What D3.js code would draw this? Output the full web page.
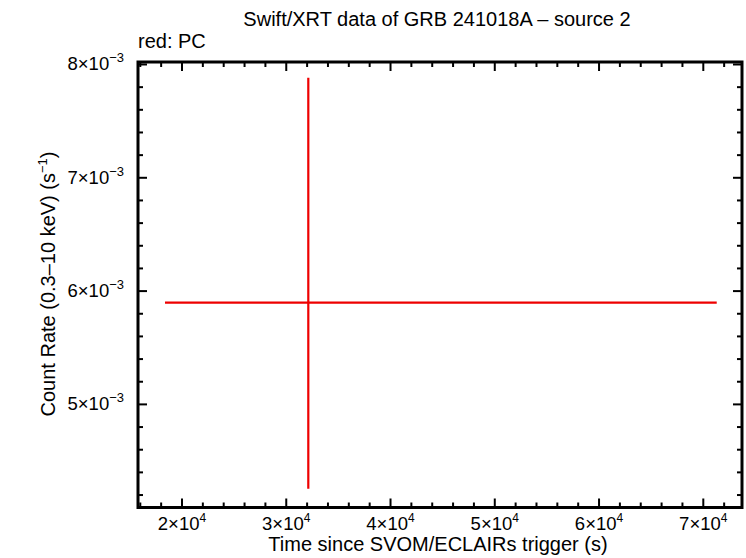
<!DOCTYPE html>
<html><head><meta charset="utf-8">
<script src="https://cdn.jsdelivr.net/npm/d3@7"></script>
<style>body{margin:0;background:#fff}svg{display:block}text{font-family:"Liberation Sans",Arial,Helvetica,sans-serif;fill:#000}</style>
</head><body>
<script>
// data
const time = [32114];
const timeLo = [18369];
const timeHi = [71288];
const rate = [5.899e-3];
const rateLo = [4.255e-3];
const rateHi = [7.883e-3];

const xDomain = [15780, 73712];
const yDomain = [4.090e-3, 8.022e-3];
const xMajor = [20000, 30000, 40000, 50000, 60000, 70000];
const xMajorMant = ["2", "3", "4", "5", "6", "7"];
const xExp = "4";
const yMajor = [5e-3, 6e-3, 7e-3, 8e-3];
const yMajorMant = ["5", "6", "7", "8"];
const yExp = "\u22123";

const W = 746, H = 558;
const L = 138, R = 742, T = 62, B = 507.5;
const svg = d3.select("body").append("svg").attr("width", W).attr("height", H);
const x = d3.scaleLinear().domain(xDomain).range([L, R]);
const y = d3.scaleLinear().domain(yDomain).range([B, T]);

const xMinor = d3.range(16000, 73712, 2000).filter(v => v % 10000 !== 0);
const yMinor = d3.range(42, 81, 2).map(v => v * 1e-4).filter(v => v >= yDomain[0] && v <= yDomain[1] && Math.abs(v*1000 - Math.round(v*1000)) > 1e-6);

const g = svg.append("g").attr("stroke", "#000").attr("stroke-width", 2);
const majLen = 9, minLen = 5;
xMajor.forEach(v => {
  g.append("line").attr("x1", x(v)).attr("x2", x(v)).attr("y1", B).attr("y2", B - majLen);
  g.append("line").attr("x1", x(v)).attr("x2", x(v)).attr("y1", T).attr("y2", T + majLen);
});
xMinor.forEach(v => {
  g.append("line").attr("x1", x(v)).attr("x2", x(v)).attr("y1", B).attr("y2", B - minLen);
  g.append("line").attr("x1", x(v)).attr("x2", x(v)).attr("y1", T).attr("y2", T + minLen);
});
yMajor.forEach(v => {
  g.append("line").attr("y1", y(v)).attr("y2", y(v)).attr("x1", L).attr("x2", L + majLen);
  g.append("line").attr("y1", y(v)).attr("y2", y(v)).attr("x1", R).attr("x2", R - majLen);
});
yMinor.forEach(v => {
  g.append("line").attr("y1", y(v)).attr("y2", y(v)).attr("x1", L).attr("x2", L + minLen);
  g.append("line").attr("y1", y(v)).attr("y2", y(v)).attr("x1", R).attr("x2", R - minLen);
});
svg.append("rect").attr("x", L).attr("y", T).attr("width", R - L).attr("height", B - T)
  .attr("fill", "none").attr("stroke", "#000").attr("stroke-width", 3);

// data marks
const d = time.map((t, i) => ({t, lo: timeLo[i], hi: timeHi[i], r: rate[i], rlo: rateLo[i], rhi: rateHi[i]}));
const m = svg.append("g").attr("stroke", "#ee0000").attr("stroke-width", 2.2);
m.selectAll(".h").data(d).enter().append("line")
  .attr("x1", e => x(e.lo)).attr("x2", e => x(e.hi)).attr("y1", e => y(e.r)).attr("y2", e => y(e.r));
m.selectAll(".v").data(d).enter().append("line")
  .attr("x1", e => x(e.t)).attr("x2", e => x(e.t)).attr("y1", e => y(e.rlo)).attr("y2", e => y(e.rhi));

// tick labels
xMajor.forEach((v, i) => {
  const t = svg.append("text").attr("x", x(v)).attr("y", 530).attr("text-anchor", "middle").attr("font-size", 18.5);
  t.append("tspan").text(xMajorMant[i] + "\u00d710");
  t.append("tspan").attr("dy", -8).attr("font-size", 12).text(xExp);
});
yMajor.forEach((v, i) => {
  const t = svg.append("text").attr("x", 124).attr("y", y(v) + 6).attr("text-anchor", "end").attr("font-size", 18.5);
  t.append("tspan").text(yMajorMant[i] + "\u00d710");
  t.append("tspan").attr("dy", -8).attr("font-size", 13).text(yExp);
});

svg.append("text").attr("x", 437).attr("y", 26).attr("text-anchor", "middle").attr("font-size", 20)
  .text("Swift/XRT data of GRB 241018A \u2013 source 2");
svg.append("text").attr("x", 138).attr("y", 48).attr("font-size", 20).text("red: PC");
svg.append("text").attr("x", 438).attr("y", 551).attr("text-anchor", "middle").attr("font-size", 20)
  .text("Time since SVOM/ECLAIRs trigger (s)");
const yl = svg.append("text").attr("transform", "translate(55,284) rotate(-90)").attr("text-anchor", "middle").attr("font-size", 20);
yl.append("tspan").text("Count Rate (0.3\u201310 keV) (s");
yl.append("tspan").attr("dy", -8).attr("font-size", 13).text("\u22121");
yl.append("tspan").attr("dy", 8).text(")");
</script>
</body></html>
